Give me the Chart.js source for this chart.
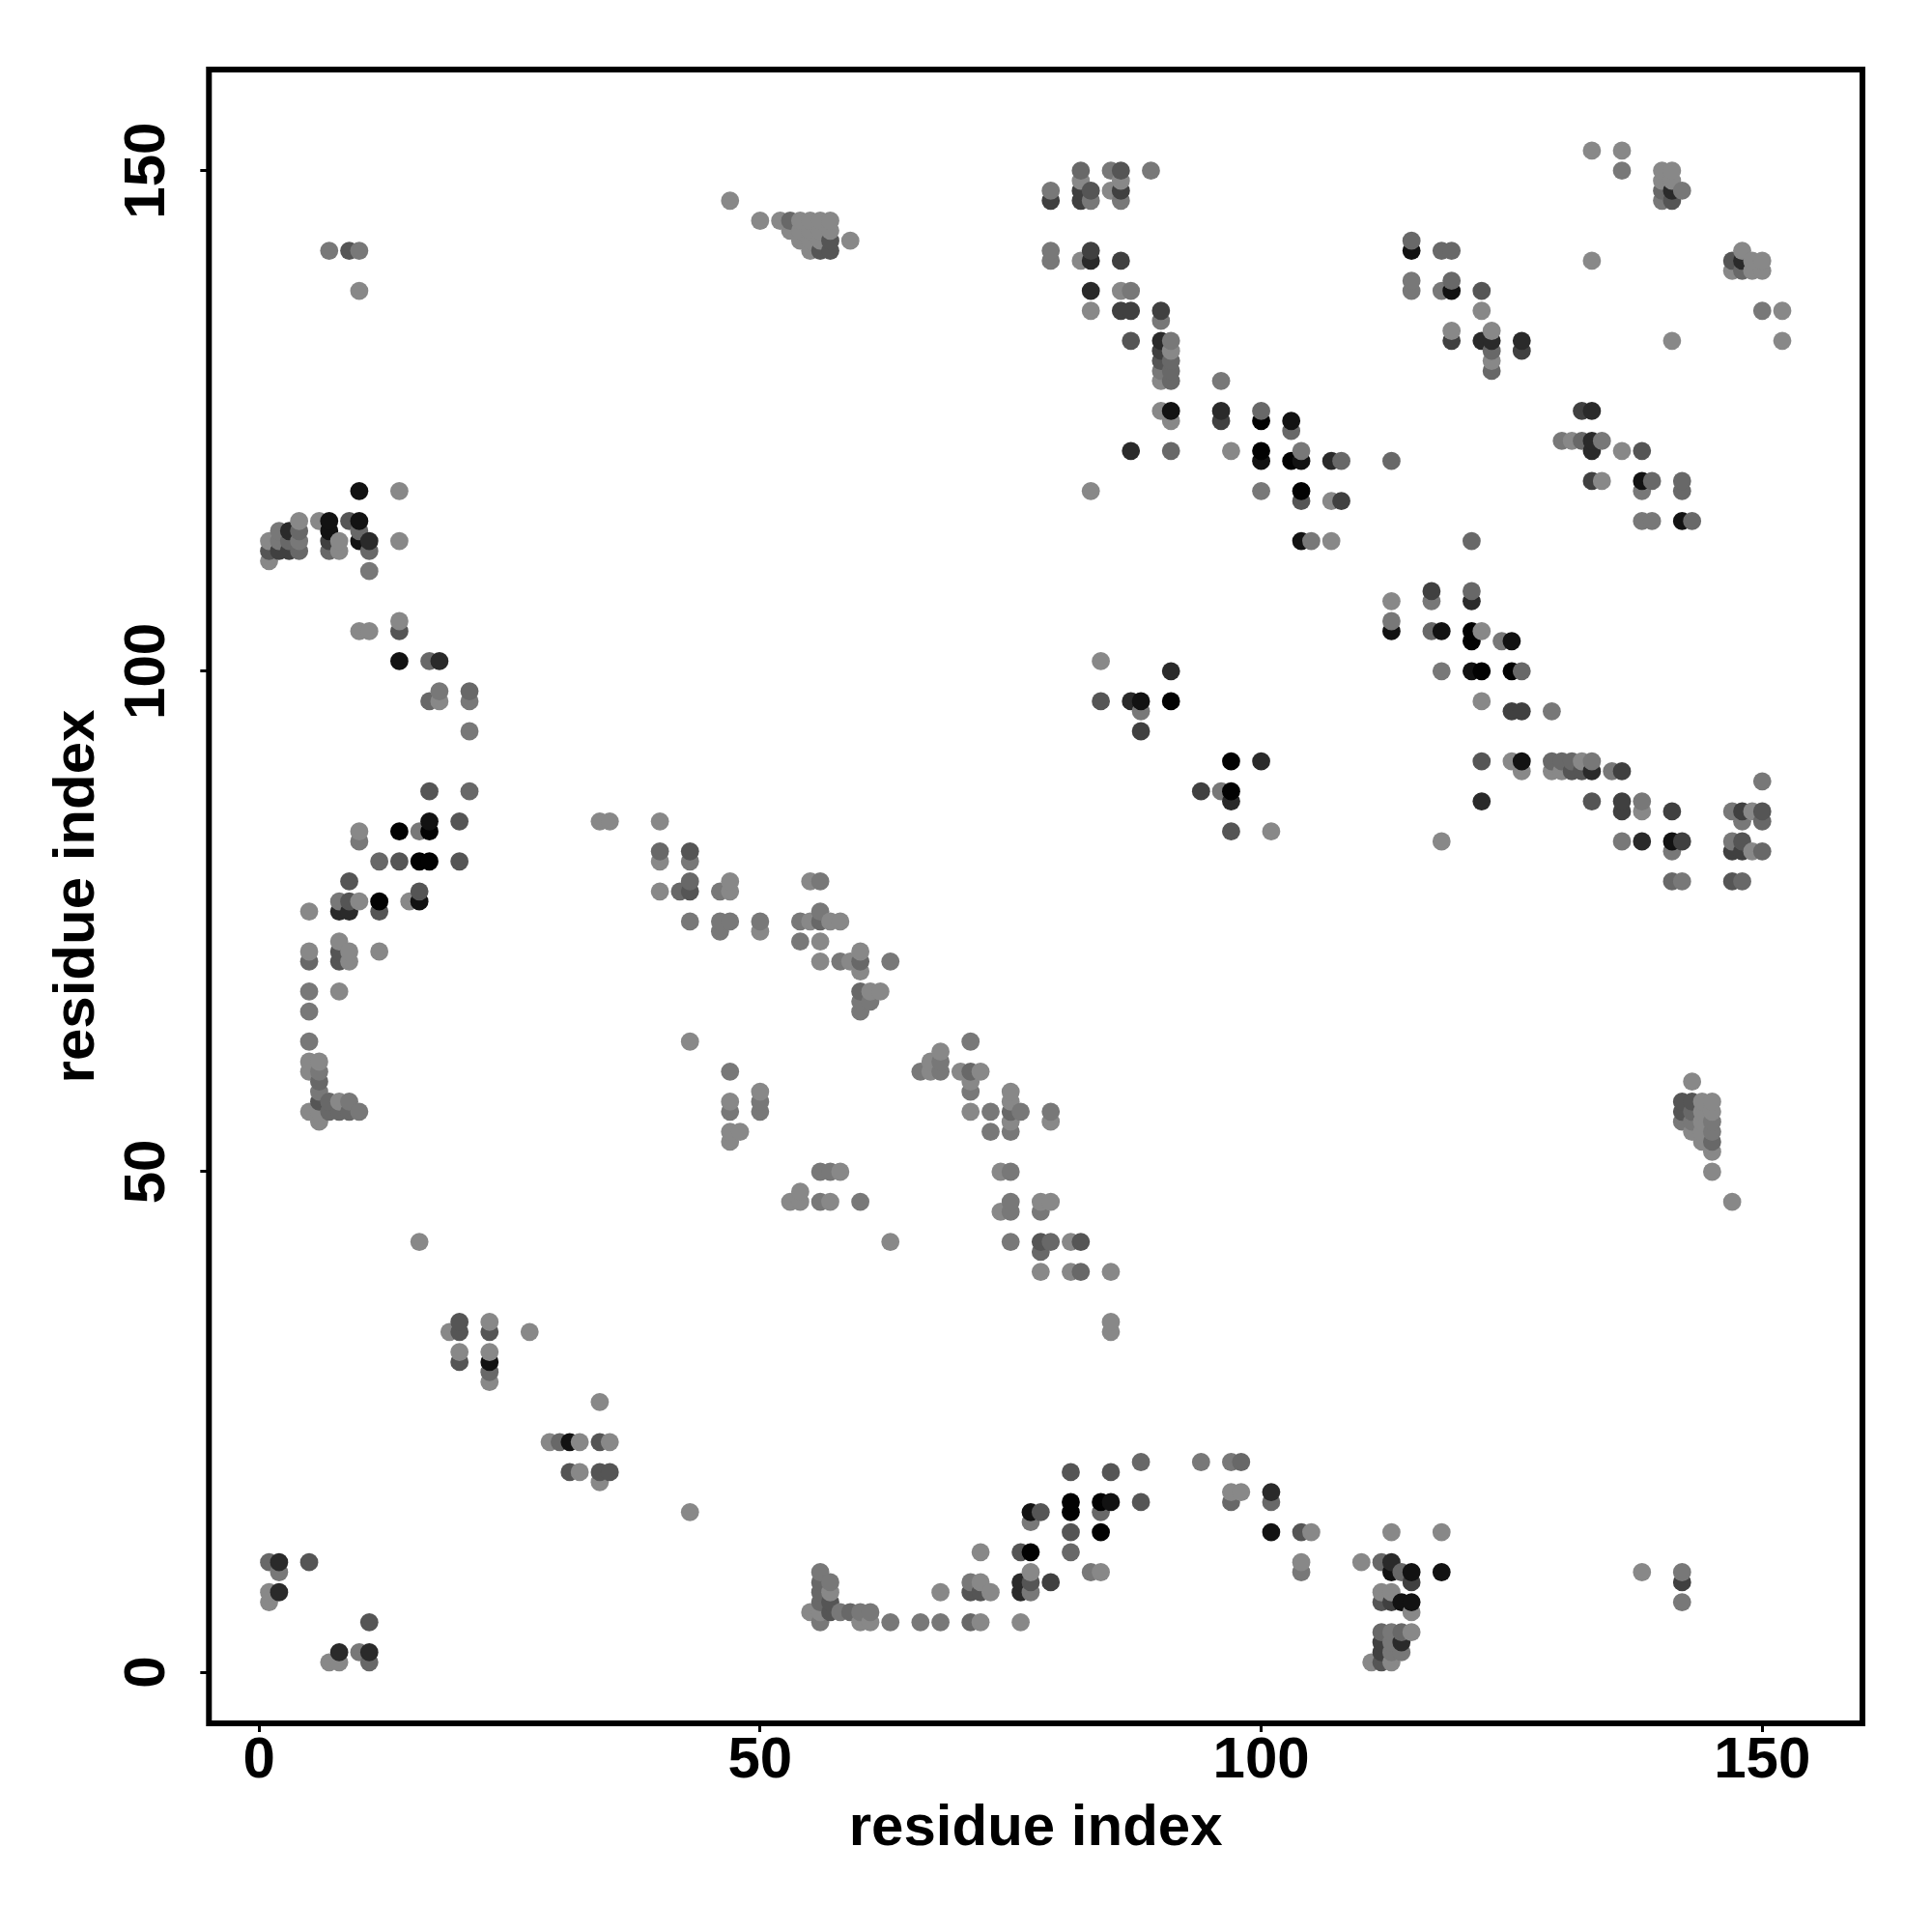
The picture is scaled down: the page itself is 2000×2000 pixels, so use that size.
<!DOCTYPE html>
<html><head><meta charset="utf-8">
<style>html,body{margin:0;padding:0;background:#fff}canvas{display:block}</style>
<script src="https://cdn.jsdelivr.net/npm/chart.js@4"></script>
</head><body>
<canvas id="c" width="2000" height="2000" style="width:2000px;height:2000px"></canvas>
<script>
const tickValues = [0, 50, 100, 150];
const axisLabel = "residue index";
const residueI = [
47,50,7,9,10,10,10,14,
4,6,7,9,10,2,3,4,1,2,3,4,
7,10,7,8,10,11,14,1,2,3,4,7,8,11,
1,11,10,11,14,14,14,17,18,
18,17,18,21,21,21,17,21,34,35,40,17,20,
14,16,17,10,10,12,14,16,17,20,40,40,43,43,
9,43,40,42,43,47,46,47,8,9,10,12,15,16,16,
5,8,9,12,43,46,47,50,46,50,
8,5,8,9,12,5,8,9,5,8,5,5,43,
5,6,5,6,6,6,6,7,8,9,
5,6,7,8,9,10,6,47,50,47,50,47,50,47,48,47,
16,20,19,20,23,23,27,20,20,23,23,23,23,34,
29,30,31,32,34,35,31,32,34,35,34,43,
1,2,5,2,1,2,1,11,8,10,11,7,8,11,
52,53,54,55,56,57,53,54,55,56,57,
54,55,56,57,59,55,56,57,
82,85,86,89,82,86,79,82,83,85,86,
79,82,83,86,79,83,79,82,83,86,
83,86,87,83,86,87,90,90,87,90,91,
90,91,90,91,90,91,90,91,96,
90,91,91,96,96,100,100,103,103,
87,91,97,100,100,103,83,100,
133,136,136,140,141,140,141,140,141,142,140,141,
148,147,148,149,150,147,148,149,150,
115,115,118,119,133,115,115,118,119,119,122,
122,150,152,119,119,122,123,123,123,123,123,126,126,
141,152,132,133,
130,131,132,133,134,133,136,138,
133,134,138,139,142,138,142,138,139,142,143,121,
104,104,107,108,113,104,104,107,108,104,105,107,
113,113,113,117,117,121,121,117,118,121,122,121,124,125,
118,121,122,125,126,122,125,126,129,
122,125,126,126,129,130,131,132,133,
129,130,131,132,133,135,136,150,
122,133,136,138,136,138,141,147,148,149,150,148,150,
118,136,138,141,142,141,147,148,147,148,149,150,
141,142,147,148,
143,142,143,144,145,142,143,144,145,142,143,144,145,143,144,145,144,145,145,145,
84,91,84,87,88,91,88,88,97,100,94,96,97,97,97,101,
55,56,56,54,55,56,57,58,54,56,
56,58,59,60,60,63,60,60,61,62,60,61,60,
71,68,67,68,66,67,68,70,71,72,71,71,
75,75,71,73,75,76,79,79,75,73,75,
56,57,58,74,75,
54,53,54,56,57,60,75,74,75,78,79,78,
63,75,78,79,81,82,78,78,81,82,85,85,85,
88,81,85,94,97,98,97,98,97,101,101,
81,84,85,88,77,78,81,84,77,
81,84,101,104,105,72,76,77,81,
83,84,77,76,77,79,76,77,
71,72,71,72,73,68,76,66,68,71,72,63,
56,56,57,56,57,56,57,55,56,57,58,59,60,61,56,60,61,
147,113,118,104,104,110,112,113,113,114,115,118,115,
138,142,142,142,112,113,112,113,114,115,115,
112,113,114,115,112,113,114,112,113,114,111,112,113
];
const residueJ = [
147,145,142,142,142,138,118,118,
115,115,115,115,115,114,114,114,113,113,113,113,
114,114,113,113,113,113,113,112,112,112,112,112,112,112,
111,110,104,104,105,104,101,101,101,
98,97,97,98,97,94,88,88,85,85,85,85,85,
84,84,84,84,83,81,81,81,81,81,82,81,82,81,
79,79,78,78,78,79,78,78,77,77,77,77,77,78,77,
76,76,76,76,75,75,75,75,74,74,
73,72,72,72,72,71,71,71,68,68,66,63,63,
61,61,60,60,59,58,57,57,57,57,
56,56,56,56,56,56,55,60,58,57,57,56,56,54,54,53,
43,35,34,34,35,34,34,32,31,32,31,30,29,27,
23,23,23,23,23,23,20,20,20,20,19,16,
11,11,11,10,8,8,7,5,2,2,2,1,1,1,
145,145,145,145,145,145,144,144,144,144,144,
143,143,143,143,143,142,142,142,
150,150,150,150,149,149,148,148,148,148,148,
147,147,147,147,142,142,141,141,141,141,
138,138,138,136,136,136,136,135,133,133,133,
132,132,131,131,130,130,129,129,129,
126,126,125,126,125,126,125,125,124,
122,122,122,122,121,121,118,118,
152,152,150,150,150,149,149,148,148,148,147,147,
142,141,141,141,141,140,140,140,140,
143,142,142,142,141,139,138,138,139,138,138,
136,136,136,134,133,133,134,133,132,131,130,133,132,
133,133,126,126,
123,123,123,123,123,122,122,122,
119,119,119,119,119,118,118,115,115,115,115,113,
122,121,121,121,121,118,117,117,117,113,113,113,
107,105,104,108,107,108,107,104,104,104,104,103,103,103,
100,100,100,100,100,97,96,96,96,
91,91,91,90,91,91,91,91,91,
90,90,90,90,90,90,90,89,
87,87,87,87,86,86,86,86,86,86,86,85,85,
83,83,83,83,83,82,83,83,82,82,82,82,
79,79,79,79,
59,57,57,57,57,56,56,56,56,55,55,55,55,54,54,54,53,53,52,50,
101,100,97,97,97,97,96,94,91,91,88,88,88,87,84,84,
79,79,76,75,75,75,75,75,73,73,
71,71,71,72,71,71,70,68,68,68,67,67,66,
63,62,61,61,60,60,60,60,60,60,59,58,
58,57,56,56,56,56,56,55,55,54,54,
50,50,50,50,50,
48,47,47,47,47,47,47,46,46,47,47,46,
43,43,43,43,43,43,42,40,40,40,40,35,34,
21,20,20,21,21,21,18,18,17,18,17,
17,17,17,17,16,16,16,16,15,
14,14,14,14,14,12,12,12,12,
10,10,10,9,9,9,8,8,
9,9,8,8,8,8,5,5,5,5,5,5,
10,9,9,8,8,7,7,6,6,6,6,6,6,6,5,5,5,
47,14,14,11,10,11,11,11,10,10,10,10,9,
10,10,9,7,8,8,7,7,7,7,6,
4,4,4,4,3,3,3,2,2,2,1,1,1
];
const contactStrength = [
1,1,2,4,2,1,7,1,
1,1,7,4,7,2,6,3,1,2,3,2,
7,3,5,1,7,6,1,4,5,5,3,3,1,3,
1,2,1,1,1,4,7,3,6,
2,3,1,3,2,2,4,3,1,1,1,7,4,
8,2,8,1,2,3,4,8,8,4,3,1,4,2,
4,3,1,3,4,1,2,1,2,4,1,8,1,4,7,
1,6,6,4,2,2,2,2,2,1,
1,1,4,1,1,3,4,1,2,1,2,2,1,
1,1,1,2,3,2,4,3,1,2,
1,1,3,3,3,2,1,2,1,1,2,2,2,1,1,1,
1,4,1,4,1,4,1,1,4,1,7,3,1,1,
1,3,7,1,4,1,4,1,4,4,1,1,
3,6,4,2,1,6,1,4,6,2,6,1,1,3,
1,3,1,1,1,1,1,1,1,1,1,
1,1,1,4,1,1,4,4,
3,2,4,2,1,1,2,5,4,1,5,
5,5,2,2,2,5,2,1,6,5,
6,1,2,1,5,5,5,2,4,6,2,
5,1,4,3,2,3,1,3,2,
1,7,1,6,5,3,8,7,3,
6,3,1,8,7,8,1,2,
1,1,2,1,1,1,1,3,6,2,2,4,
1,4,6,1,1,1,3,1,1,
3,7,3,3,1,2,2,2,3,7,4,
1,2,1,1,5,6,1,6,3,1,3,6,5,
1,1,5,6,
2,1,3,6,2,6,1,4,
5,1,7,3,3,2,3,2,2,7,3,3,
2,7,6,3,3,8,4,1,5,7,2,1,
1,2,7,5,2,3,6,3,7,8,1,8,2,7,
2,7,8,8,3,1,5,5,2,
4,1,7,1,3,3,3,1,2,
1,1,4,4,6,2,5,2,
6,4,5,2,5,1,5,2,5,1,4,2,3,
1,2,6,7,5,2,2,4,5,5,1,3,
3,2,4,3,
1,4,4,1,1,4,3,1,1,2,2,1,2,1,1,2,1,3,1,1,
1,6,4,6,7,8,2,5,8,6,5,2,8,6,4,1,
1,2,2,2,1,3,1,1,2,1,
1,2,1,1,3,2,1,3,1,1,2,2,2,
2,1,1,2,2,1,2,1,3,1,1,2,
1,1,1,2,3,2,2,1,1,2,2,
2,2,1,1,2,
1,1,1,2,1,2,2,1,2,1,1,2,
1,2,4,3,1,4,3,1,1,3,1,1,1,
3,4,4,2,2,3,1,1,3,6,3,
8,8,7,4,7,4,8,3,2,
4,8,7,4,1,1,4,8,3,
2,1,1,6,4,5,6,2,
2,1,4,4,1,1,1,2,2,3,1,2,
2,3,2,3,1,3,4,1,1,4,2,3,2,2,2,1,1,
1,1,1,1,2,1,3,6,7,3,7,7,5,
1,2,5,2,1,1,4,5,7,7,1,
3,2,3,1,5,2,6,5,2,2,1,4,1
];
const grayLevels = [0, 136, 120, 104, 85, 64, 42, 18, 2];

if (residueI.length !== residueJ.length || residueI.length !== contactStrength.length) {
  console.error("length mismatch", residueI.length, residueJ.length, contactStrength.length);
}

// points were plotted column by column, later ones on top
const order = residueI.map((_, k) => k).sort((a, b) => residueI[a] - residueI[b] || residueJ[a] - residueJ[b]);
const points = order.map(k => ({ x: residueI[k], y: residueJ[k] }));
const colors = order.map(k => { const g = grayLevels[contactStrength[k]]; return `rgb(${g},${g},${g})`; });

const frame = {
  id: "frame",
  afterDraw(chart) {
    const { ctx, chartArea: a } = chart;
    ctx.save();
    ctx.strokeStyle = "#000";
    ctx.lineWidth = 6;
    ctx.lineJoin = "miter";
    ctx.strokeRect(a.left, a.top, a.right - a.left, a.bottom - a.top);
    ctx.restore();
  }
};
const fontFamily = '"Liberation Sans", Arial, sans-serif';
const tickFont = { family: fontFamily, size: 60, weight: "bold" };
const gridOpts = { display: true, drawOnChartArea: false, drawTicks: true, tickLength: 9, tickWidth: 3, tickColor: "#000", lineWidth: 3 };

new Chart(document.getElementById("c"), {
  type: "scatter",
  data: { datasets: [{
    data: points,
    pointBackgroundColor: colors,
    pointBorderWidth: 0,
    pointRadius: 9.4,
    showLine: false
  }]},
  plugins: [frame],
  options: {
    responsive: false,
    animation: false,
    devicePixelRatio: 1,
    layout: { autoPadding: false, padding: { left: 0, top: 72, right: 72, bottom: 0 } },
    plugins: { legend: { display: false }, tooltip: { enabled: false }, title: { display: false } },
    scales: {
      x: {
        type: "linear", min: -5, max: 160,
        afterBuildTicks: s => { s.ticks = tickValues.map(v => ({ value: v })); },
        afterFit: s => { s.height = 216; },
        border: { display: false },
        grid: gridOpts,
        ticks: { color: "#000", font: tickFont, padding: -6, maxRotation: 0, minRotation: 0, autoSkip: false, callback: v => String(v) },
        title: { display: true, text: axisLabel, color: "#000", font: tickFont, padding: { top: 0, bottom: 71 } }
      },
      y: {
        type: "linear", min: -5.1, max: 160.1,
        afterBuildTicks: s => { s.ticks = tickValues.map(v => ({ value: v })); },
        afterFit: s => { s.width = 216.3; },
        border: { display: false },
        grid: gridOpts,
        ticks: { color: "#000", font: tickFont, padding: 4, minRotation: 90, maxRotation: 90, crossAlign: "center", autoSkip: false, callback: v => String(v) },
        title: { display: true, text: axisLabel, color: "#000", font: tickFont, padding: { top: 44, bottom: 0 } }
      }
    }
  }
});
</script>
</body></html>
